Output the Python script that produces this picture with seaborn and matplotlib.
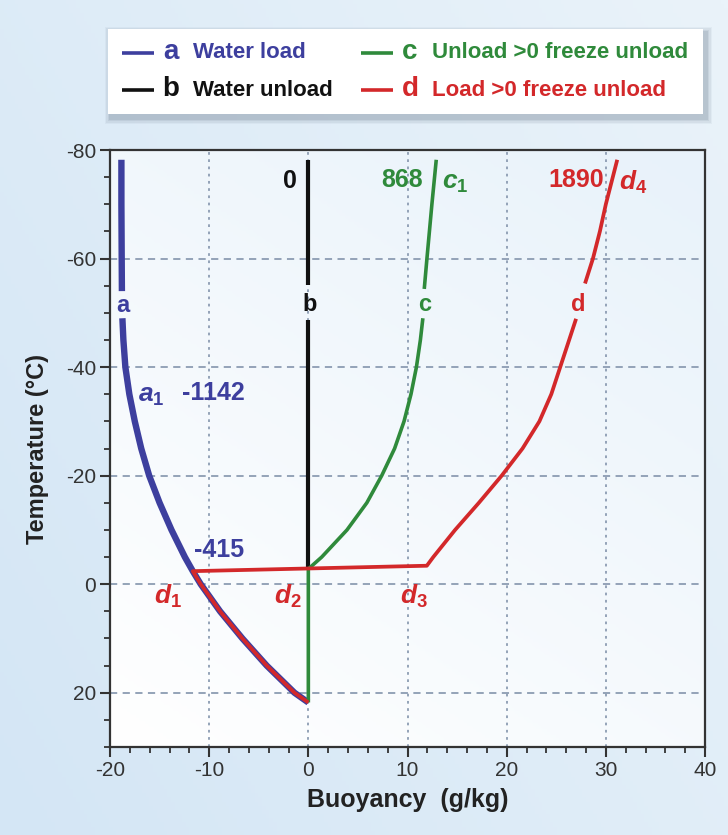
import numpy as np
import pandas as pd
import seaborn as sns
import matplotlib.pyplot as plt
from matplotlib.patches import Rectangle
from matplotlib.colors import LinearSegmentedColormap
from matplotlib.ticker import MultipleLocator

# curve a - water load (gap around the "a" label)
a_temp_top = [-78.2, -70, -60, -54]
a_buoy_top = [-18.85, -18.85, -18.82, -18.8]
a_temp_low = [-49, -45, -40, -35, -30, -25, -20, -15, -10, -5, -2.4, 0, 5, 10, 15, 20, 21.8]
a_buoy_low = [-18.75, -18.65, -18.45, -18.05, -17.5, -16.85, -16.05, -15.0, -13.8, -12.45, -11.65, -10.85, -8.9, -6.65, -4.2, -1.4, 0.0]

# curve b - water unload
b_temp_top = [-78.2, -55.1]
b_buoy_top = [0, 0]
b_temp_low = [-48.6, -2.8]
b_buoy_low = [0, 0]

# curve c - unload >0 freeze unload
c_temp_low = [21.8, -2.8, -5, -10, -15, -20, -25, -30, -35, -40, -45, -49]
c_buoy_low = [0, 0, 1.35, 3.9, 5.9, 7.4, 8.7, 9.65, 10.35, 10.9, 11.3, 11.55]
c_temp_top = [-54.4, -60, -70, -78.2]
c_buoy_top = [11.69, 11.96, 12.46, 12.9]

# curve d - load >0 freeze unload
d_temp_low = [21.8, 20, 15, 10, 5, 0, -2.4, -3.4, -5, -10, -15, -20, -25, -30, -35, -40, -45, -48.9]
d_buoy_low = [0, -1.4, -4.2, -6.65, -8.9, -10.85, -11.65, 11.95, 12.6, 14.8, 17.2, 19.5, 21.6, 23.3, 24.5, 25.4, 26.3, 27.0]
d_temp_top = [-55.4, -60, -65, -70, -78.2]
d_buoy_top = [27.9, 28.7, 29.4, 30.0, 31.15]

BLUE = '#3d3f9e'
BLACK = '#111111'
GREEN = '#2f8a3b'
RED = '#d3282a'


def segs(name, parts):
    rows = []
    for i, (t, b) in enumerate(parts):
        for tt, bb in zip(t, b):
            rows.append({'curve': name, 'seg': i, 'temperature': tt, 'buoyancy': bb})
    return rows


df = pd.DataFrame(
    segs('a', [(a_temp_top, a_buoy_top), (a_temp_low, a_buoy_low)])
    + segs('b', [(b_temp_top, b_buoy_top), (b_temp_low, b_buoy_low)])
    + segs('c', [(c_temp_low, c_buoy_low), (c_temp_top, c_buoy_top)])
    + segs('d', [(d_temp_low, d_buoy_low), (d_temp_top, d_buoy_top)])
)

sns.set_style('ticks')
plt.rcParams['font.family'] = ['Liberation Sans', 'DejaVu Sans']
plt.rcParams['axes.unicode_minus'] = False
plt.rcParams['mathtext.fontset'] = 'custom'
plt.rcParams['mathtext.it'] = 'Liberation Sans:italic:bold'
plt.rcParams['mathtext.rm'] = 'Liberation Sans:bold'

fig = plt.figure(figsize=(7.28, 8.35), dpi=100)

# soft blue page background
bg = fig.add_axes([0, 0, 1, 1], zorder=-10)
gx, gy = np.meshgrid(np.linspace(0, 1, 200), np.linspace(0, 1, 200))
page_cmap = LinearSegmentedColormap.from_list('page', ['#d4e6f5', '#eaf3fa'])
bg.imshow(gx * 0.6 + gy * 0.4, cmap=page_cmap, origin='lower', extent=[0, 1, 0, 1], aspect='auto')
bg.axis('off')

ax = fig.add_axes([110 / 728, 1 - 747 / 835, 595 / 728, 597 / 835])
plot_cmap = LinearSegmentedColormap.from_list('plot', ['#ffffff', '#e8f2fa'])
ax.imshow(gx * 0.4 + gy * 0.6, cmap=plot_cmap, origin='lower', extent=[0, 1, 0, 1],
          transform=ax.transAxes, aspect='auto', zorder=0)

styles = {
    'a': dict(color=BLUE, linewidth=4.6),
    'b': dict(color=BLACK, linewidth=3.0),
    'c': dict(color=GREEN, linewidth=2.6),
    'd': dict(color=RED, linewidth=2.7),
}
for k in ['a', 'b', 'c', 'd']:
    sns.lineplot(ax=ax, data=df[df['curve'] == k], x='buoyancy', y='temperature',
                 units='seg', estimator=None, sort=False, legend=False, zorder=3,
                 solid_capstyle='butt', solid_joinstyle='round', **styles[k])

ax.set_xlim(-20, 40)
ax.set_ylim(30, -80)
ax.xaxis.set_major_locator(MultipleLocator(10))
ax.xaxis.set_minor_locator(MultipleLocator(2))
ax.set_yticks(range(-80, 21, 20))
ax.yaxis.set_minor_locator(MultipleLocator(5))
ax.tick_params(which='major', direction='out', length=7, width=1.5, labelsize=15,
               colors='#333333', pad=3)
ax.tick_params(which='minor', direction='out', length=4, width=1.3, colors='#333333')
for s in ax.spines.values():
    s.set_color('#333333')
    s.set_linewidth(1.6)
ax.xaxis.grid(True, which='major', color='#8c9cb2', linestyle=(0, (1.5, 2.5)), linewidth=1.3, zorder=1)
ax.yaxis.grid(True, which='major', color='#8c9cb2', linestyle=(0, (4, 3)), linewidth=1.3, zorder=1)
ax.set_axisbelow(True)

ax.set_xlabel('Buoyancy  (g/kg)', fontsize=18, fontweight='bold', color='#222222', labelpad=6)
ax.set_ylabel('Temperature (°C)', fontsize=17, fontweight='bold', color='#222222', labelpad=12)

# curve labels
kw = dict(fontsize=17, fontweight='bold', ha='center', va='center', zorder=5)
ax.text(-18.7, -51.4, 'a', color=BLUE, **kw)
ax.text(0.1, -51.5, 'b', color=BLACK, **kw)
ax.text(11.7, -51.5, 'c', color=GREEN, **kw)
ax.text(27.2, -51.6, 'd', color=RED, **kw)

kr = dict(fontsize=18, fontweight='bold', ha='right', va='center', zorder=5)
ax.text(-1.2, -74.3, '0', color=BLACK, **kr)
ax.text(11.6, -74.4, '868', color=GREEN, **kr)
ax.text(29.8, -74.4, '1890', color=RED, **kr)

kl = dict(fontsize=18, fontweight='bold', ha='left', va='center', zorder=5)
ax.text(-12.7, -35.3, '-1142', color=BLUE, **kl)
ax.text(-11.5, -6.3, '-415', color=BLUE, **kl)

ki = dict(fontsize=19, ha='center', va='center', zorder=5)
ax.text(14.8, -74.0, r'$\it{c}_{\rm 1}$', color=GREEN, **ki)
ax.text(32.8, -74.0, r'$\it{d}_{\rm 4}$', color=RED, **ki)
ax.text(-15.8, -34.6, r'$\it{a}_{\rm 1}$', color=BLUE, **ki)
ax.text(-14.2, 2.2, r'$\it{d}_{\rm 1}$', color=RED, **ki)
ax.text(-2.1, 2.2, r'$\it{d}_{\rm 2}$', color=RED, **ki)
ax.text(10.6, 2.2, r'$\it{d}_{\rm 3}$', color=RED, **ki)

# legend box with soft shadow
for i, a in enumerate([0.05, 0.07, 0.09, 0.12]):
    off = 6 - i * 1.4
    fig.patches.append(Rectangle(((108 - off + 3) / 728, 1 - (114 + off + 4) / 835),
                                 (595 + 2 * off) / 728, (85 + 2 * off) / 835,
                                 transform=fig.transFigure, facecolor='#4a5a70',
                                 alpha=a, edgecolor='none', zorder=-5))
lg = fig.add_axes([108 / 728, 1 - 114 / 835, 595 / 728, 85 / 835])
lg.set_facecolor('white')
lg.set_xlim(0, 595)
lg.set_ylim(85, 0)
lg.set_xticks([])
lg.set_yticks([])
for s in lg.spines.values():
    s.set_visible(False)

leg_letters = ['a', 'b', 'c', 'd']
leg_labels = ['Water load', 'Water unload', 'Unload >0 freeze unload', 'Load >0 freeze unload']
leg_colors = [BLUE, BLACK, GREEN, RED]
leg_col_x = [14, 14, 253, 253]
leg_row_y = [24, 61, 24, 61]
for letter, label, col, x0, y0 in zip(leg_letters, leg_labels, leg_colors, leg_col_x, leg_row_y):
    lg.plot([x0, x0 + 32], [y0, y0], color=col, linewidth=2.6, solid_capstyle='butt')
    lg.text(x0 + 49, y0 - 1, letter, color=col, fontsize=20, fontweight='bold', ha='center', va='center')
    lg.text(x0 + 71, y0, label, color=col, fontsize=16, fontweight='bold', ha='left', va='center')

fig.savefig('out.png', dpi=100)
